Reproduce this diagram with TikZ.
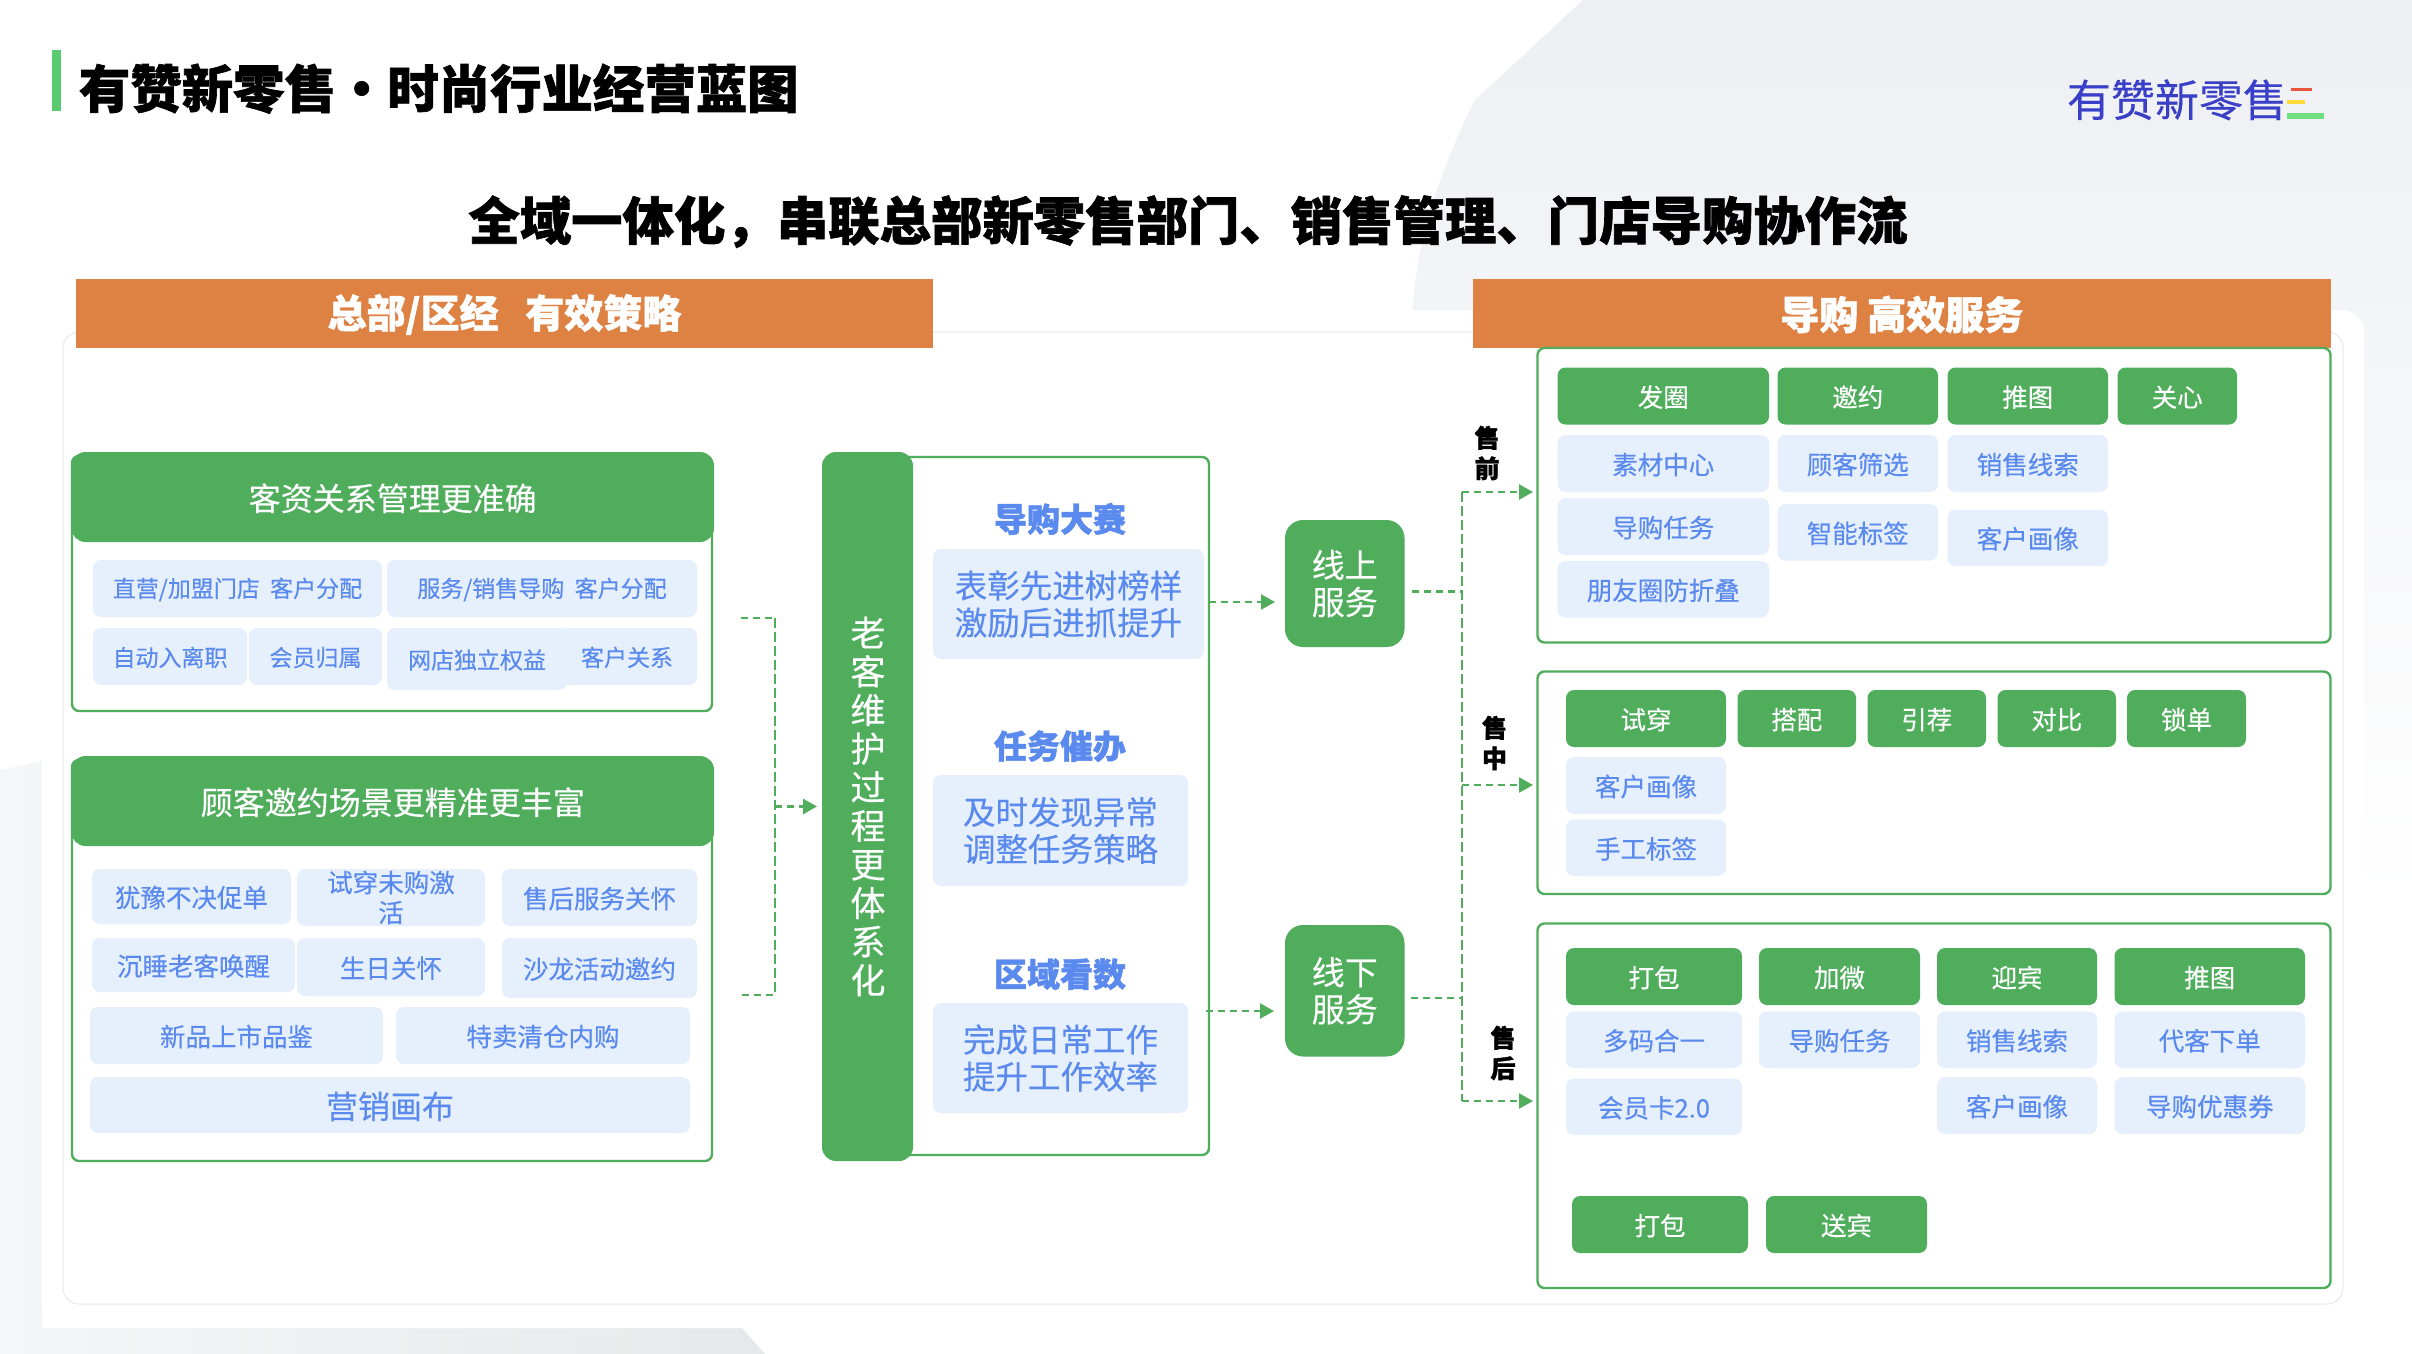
\documentclass[tikz,border=0pt]{standalone}
\usepackage{fontspec}
\usetikzlibrary{arrows.meta,calc}
\newfontfamily\cjk[FakeBold=0.3,BoldFeatures={FakeBold=1.3}]{Noto Sans CJK SC}
\definecolor{gr}{HTML}{4FAD5C}
\definecolor{org}{HTML}{DE8244}
\definecolor{chipb}{HTML}{E6EFFC}
\definecolor{txtb}{HTML}{5B8AEE}
\definecolor{logoc}{HTML}{3A3FC8}
\definecolor{topgrey}{HTML}{EDEFF3}
\definecolor{leftgrey}{HTML}{F5F6F8}
\definecolor{midgrey}{HTML}{E6E8EB}
\definecolor{barg}{HTML}{5BCB72}
\definecolor{logor}{HTML}{E8553A}
\definecolor{logoy}{HTML}{FFD83A}
\definecolor{logog}{HTML}{6EE07F}
\newcommand\fs[1]{\fontsize{#1}{#1}\selectfont\cjk}
\newcommand\bx[7][]{\node[#2,#1,minimum width={(#5-#3)*1pt},minimum height={(#6-#4)*1pt}] (#7) at ({(#3+#5)/2},{(#4+#6)/2})}
\tikzset{
 base/.style={inner sep=0pt,outer sep=0pt,align=center,execute at begin node={\vrule width 0pt height 0.93em depth 0pt\relax}},
 chipbl/.style={base,fill=chipb,rounded corners=8pt,text=txtb,font=\fs{25.5}},
 chipgr/.style={base,fill=gr,rounded corners=8pt,text=white,font=\fs{25.5}},
 hdr/.style={base,fill=gr,rounded corners=14pt,text=white,font=\fs{32}},
 panel/.style={base,draw=gr,line width=2.4pt,fill=white,rounded corners=7pt},
 orange/.style={base,fill=org,text=white,font=\fs{39}\bfseries},
 ctitle/.style={base,text=txtb,font=\fs{33}\bfseries},
 side/.style={base,text=black,font={\fontsize{25}{30.5}\selectfont\cjk\bfseries}},
 svc/.style={base,fill=gr,rounded corners=18pt,text=white,font={\fontsize{33}{37}\selectfont\cjk}},
 dashH/.style={draw=gr,line width=2.4pt,dash pattern=on 7pt off 5pt},
 dashV/.style={draw=gr,line width=1.5pt,dash pattern=on 10pt off 4pt},
 tip/.style={-{Triangle[length=14pt,width=15pt]}},
}
\begin{document}
\begin{tikzpicture}[x=1pt,y=-1pt]
\useasboundingbox (0,0) rectangle (2412,1354);
% background
\fill[white] (0,0) rectangle (2412,1354);
\shade[top color=topgrey,bottom color=white]
  (1583,0) -- (1475,100) .. controls (1440,170) and (1412,250) .. (1412,330) -- (1412,900) -- (2412,900) -- (2412,0) -- cycle;
\shade[left color=leftgrey,right color=midgrey]
  (0,770) -- (42,761) -- (42,1328) -- (742,1328) -- (765,1354) -- (0,1354) -- cycle;
\fill[white,rounded corners=22pt] (42,310) rectangle (2364,1328);
\fill[white] (42,310) rectangle (1412,900);
\draw[black!9,line width=1pt,fill=white,rounded corners=16pt] (63,332) rectangle (2343,1304);
% titles
\fill[barg] (51.5,50.5) rectangle (61,111);
\node[base,anchor=west,text=black,font=\fs{51.4}\bfseries] (title) at (79,87) {有赞新零售·时尚行业经营蓝图};
\node[base,text=black,font=\fs{51.4}\bfseries] (sub) at (1188,220) {全域一体化，串联总部新零售部门、销售管理、门店导购协作流};
\node[base,text=logoc,font=\fs{44}] (logo) at (2177,98) {有赞新零售};
\fill[logor] (2290.6,88) rectangle (2312,91);
\fill[logoy] (2287,100) rectangle (2304.5,104);
\fill[logog] (2287,113) rectangle (2324,119);
% orange headers
\bx{orange}{76}{279}{933}{347.5}{ohl} {总部/区经\ \ \ 有效策略};
\bx{orange}{1473}{279}{2330.5}{347.5}{ohr} {导购 高效服务};
% left box 1
\bx{panel}{72}{456}{712}{711}{lp1} {};
\bx{hdr}{71.5}{452}{714}{542}{lh1} {客资关系管理更准确};
\tikzset{chipbl/.append style={font=\fs{23}}}
\bx{chipbl}{93}{560}{382}{617}{a1} {直营/加盟门店\ \ 客户分配};
\bx{chipbl}{387}{560}{697}{617}{a2} {服务/销售导购\ \ 客户分配};
\bx{chipbl}{93}{628}{247}{685}{a3} {自动入离职};
\bx{chipbl}{249}{628}{382}{685}{a4} {会员归属};
\bx{chipbl}{557}{628}{697}{685}{a6} {客户关系};
\bx{chipbl}{387}{628}{567}{690}{a5} {网店独立权益};
% left box 2
\tikzset{chipbl/.append style={font=\fs{25.5}}}
\bx{panel}{72}{760}{712}{1161}{lp2} {};
\bx{hdr}{71.5}{756}{714}{846}{lh2} {顾客邀约场景更精准更丰富};
\bx{chipbl}{92}{869}{291}{924}{b1} {犹豫不决促单};
\bx[font={\fontsize{25.5}{30}\selectfont\cjk}]{chipbl}{297}{869}{485}{926}{b2} {试穿未购激\\活};
\bx{chipbl}{502}{869}{697}{926}{b3} {售后服务关怀};
\bx{chipbl}{92}{938}{295}{992}{b4} {沉睡老客唤醒};
\bx{chipbl}{297}{938}{485}{996}{b5} {生日关怀};
\bx{chipbl}{502}{938}{697}{998}{b6} {沙龙活动邀约};
\bx{chipbl}{90}{1007}{383}{1064}{b7} {新品上市品鉴};
\bx{chipbl}{396}{1007}{690}{1064}{b8} {特卖清仓内购};
\bx[font=\fs{32}]{chipbl}{90}{1077}{690}{1133}{b9} {营销画布};
% centre
\bx{panel}{900}{457}{1209}{1155}{cp} {};
\bx[rounded corners=14pt,font={\fontsize{35}{38.6}\selectfont\cjk}]{chipgr}{822}{452}{913}{1161}{bar} {};
\node[base,text=white,font={\fontsize{35}{38.6}\selectfont\cjk}] (bartxt) at (868,806.5) {老\\客\\维\\护\\过\\程\\更\\体\\系\\化};
\node[ctitle] (t1) at (1060,518) {导购大赛};
\bx[font={\fontsize{32.5}{37}\selectfont\cjk}]{chipbl}{933}{549}{1204}{659}{c1} {表彰先进树榜样\\激励后进抓提升};
\node[ctitle] (t2) at (1060,745) {任务催办};
\bx[font={\fontsize{32.5}{37}\selectfont\cjk}]{chipbl}{933}{775}{1188}{886}{c2} {及时发现异常\\调整任务策略};
\node[ctitle] (t3) at (1060,973) {区域看数};
\bx[font={\fontsize{32.5}{37}\selectfont\cjk}]{chipbl}{933}{1003}{1188}{1113}{c3} {完成日常工作\\提升工作效率};
% services
\bx{svc}{1285}{520}{1404.5}{647}{on} {线上\\服务};
\bx{svc}{1285}{925}{1404.5}{1056.5}{off} {线下\\服务};
% right panels
\bx{panel}{1537.5}{348}{2330.5}{642.5}{p1} {};
\bx{panel}{1537.5}{671.5}{2330.5}{894}{p2} {};
\bx{panel}{1537.5}{923.5}{2330.5}{1288}{p3} {};
% p1
\bx{chipgr}{1557.5}{367.5}{1769}{424.5}{d1} {发圈};
\bx{chipgr}{1777.5}{367.5}{1938}{424.5}{d2} {邀约};
\bx{chipgr}{1947.5}{367.5}{2108}{424.5}{d3} {推图};
\bx{chipgr}{2117.5}{367.5}{2237}{424.5}{d4} {关心};
\bx{chipbl}{1557.5}{435}{1769}{492}{d5} {素材中心};
\bx{chipbl}{1777.5}{435}{1938}{492}{d6} {顾客筛选};
\bx{chipbl}{1947.5}{435}{2108}{492}{d7} {销售线索};
\bx{chipbl}{1557.5}{498}{1769}{555}{d8} {导购任务};
\bx{chipbl}{1777.5}{504}{1938}{560.5}{d9} {智能标签};
\bx{chipbl}{1947.5}{509.5}{2108}{566}{d10} {客户画像};
\bx{chipbl}{1557.5}{561}{1769}{617.5}{d11} {朋友圈防折叠};
% p2
\bx{chipgr}{1566}{690}{1726}{747}{e1} {试穿};
\bx{chipgr}{1737.5}{690}{1856}{747}{e2} {搭配};
\bx{chipgr}{1867.5}{690}{1986}{747}{e3} {引荐};
\bx{chipgr}{1997.5}{690}{2116}{747}{e4} {对比};
\bx{chipgr}{2127}{690}{2246}{747}{e5} {锁单};
\bx{chipbl}{1566}{757}{1726}{814}{e6} {客户画像};
\bx{chipbl}{1566}{819.5}{1726}{876}{e7} {手工标签};
% p3
\bx{chipgr}{1566}{948}{1742}{1005}{f1} {打包};
\bx{chipgr}{1759}{948}{1920}{1005}{f2} {加微};
\bx{chipgr}{1937}{948}{2097}{1005}{f3} {迎宾};
\bx{chipgr}{2114.5}{948}{2305}{1005}{f4} {推图};
\bx{chipbl}{1566}{1011.5}{1742}{1068}{f5} {多码合一};
\bx{chipbl}{1759}{1011.5}{1920}{1068}{f6} {导购任务};
\bx{chipbl}{1937}{1011.5}{2097}{1068}{f7} {销售线索};
\bx{chipbl}{2114.5}{1011.5}{2305}{1068}{f8} {代客下单};
\bx{chipbl}{1566}{1078.5}{1742}{1135}{f9} {会员卡2.0};
\bx{chipbl}{1937}{1077}{2097}{1134}{f10} {客户画像};
\bx{chipbl}{2114.5}{1077}{2305}{1134}{f11} {导购优惠券};
\bx{chipgr}{1572}{1196}{1748}{1253}{f12} {打包};
\bx{chipgr}{1766}{1196}{1927}{1253}{f13} {送宾};
% side labels
\node[side] (s1) at (1487,453) {售\\前};
\node[side] (s2) at (1494.5,743) {售\\中};
\node[side] (s3) at (1503,1053) {售\\后};
% connectors, left bracket
\coordinate (lbT) at (775,618);
\coordinate (lbB) at (775,995);
\coordinate (lbA) at (741,618);
\coordinate (lbC) at (742,995);
\draw[dashH] (lbA) -- (lbT);
\draw[dashH] (lbC) -- (lbB);
\draw[dashV] (lbT) -- (lbB);
\coordinate (lbM) at (775,806.5);
\draw[dashH,tip] (lbM) -- ([xshift=-5pt]lbM -| bar.west);
% services in
\draw[dashH,tip] ([shift={(5,-2)}]c1.east) -- ([shift={(-10,18.5)}]on.west);
\draw[dashH,tip] ([shift={(18,-47)}]c3.east) -- ([shift={(-11,20.25)}]off.west);
% right bracket
\coordinate (spT) at (1462,492);
\coordinate (spM) at (1462,785);
\coordinate (spB) at (1462,1101);
\draw[dashV] (spT) -- (spB);
\coordinate (onO) at ([shift={(7.5,8)}]on.east);
\coordinate (offO) at ([shift={(6,7.25)}]off.east);
\draw[dashH] (onO) -- (onO -| spT);
\draw[dashH] (offO) -- (offO -| spT);
\draw[dashH,tip] (spT) -- ([xshift=-4.5pt]spT -| p1.west);
\draw[dashH,tip] (spM) -- ([xshift=-4.5pt]spM -| p2.west);
\draw[dashH,tip] (spB) -- ([xshift=-4.5pt]spB -| p3.west);
\end{tikzpicture}
\end{document}
